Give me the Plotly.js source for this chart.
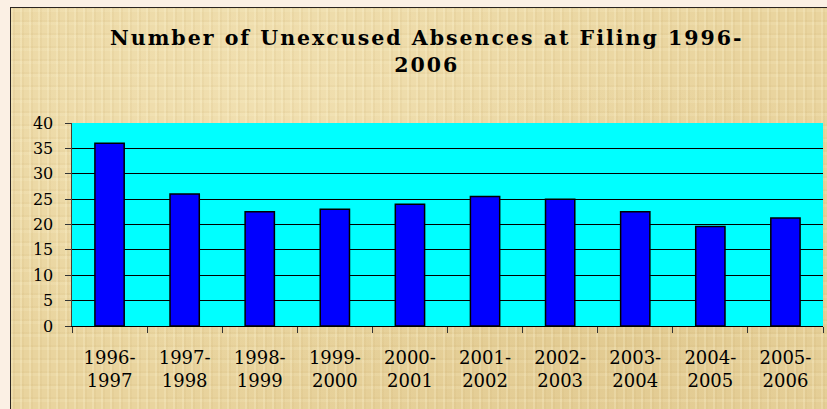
<!DOCTYPE html>
<html>
<head>
<meta charset="utf-8">
<script src="https://cdn.plot.ly/plotly-3.0.1.min.js"></script>
<style>
  html, body { margin: 0; padding: 0; width: 827px; height: 409px; overflow: hidden; background: #FBF0E4; }
  #frame {
    position: absolute; left: 10px; top: 7px; width: 830px; height: 420px;
    border-left: 1.5px solid #2b2520; border-top: 1.5px solid #2b2520;
    background-color: #E9D49E;
    background-image:
      repeating-linear-gradient(90deg, rgba(255,248,215,0.22) 0px, rgba(255,248,215,0.22) 2px, rgba(196,165,100,0.10) 2px, rgba(196,165,100,0.10) 4px, rgba(0,0,0,0) 4px, rgba(0,0,0,0) 9px),
      repeating-linear-gradient(0deg, rgba(255,248,215,0.14) 0px, rgba(255,248,215,0.14) 3px, rgba(190,158,92,0.08) 3px, rgba(190,158,92,0.08) 5px, rgba(0,0,0,0) 5px, rgba(0,0,0,0) 13px),
      radial-gradient(ellipse at 30% 20%, rgba(255,245,210,0.35), rgba(0,0,0,0) 60%),
      radial-gradient(ellipse at 75% 80%, rgba(200,168,100,0.22), rgba(0,0,0,0) 55%);
  }
  #chart { position: absolute; left: 0; top: 0; width: 827px; height: 409px; }
  .gtitle { letter-spacing: 2px; }
</style>
</head>
<body>
<div id="frame"></div>
<div id="chart"></div>
<script>
const categories = ["1996-<br>1997", "1997-<br>1998", "1998-<br>1999", "1999-<br>2000", "2000-<br>2001",
                    "2001-<br>2002", "2002-<br>2003", "2003-<br>2004", "2004-<br>2005", "2005-<br>2006"];
const absences = [36, 26, 22.5, 23, 24, 25.5, 25, 22.5, 19.6, 21.3];
const yTickValues = [0, 5, 10, 15, 20, 25, 30, 35, 40];
const titleText = "Number of Unexcused Absences at Filing 1996-<br>2006";

const trace = {
  type: "bar",
  x: categories,
  y: absences,
  marker: { color: "#0000FF", line: { color: "#000000", width: 1.5 } },
  hoverinfo: "x+y"
};

const layout = {
  width: 827, height: 409,
  margin: { l: 72, r: 4, t: 123, b: 83, pad: 0 },
  paper_bgcolor: "rgba(0,0,0,0)",
  plot_bgcolor: "#00FFFF",
  showlegend: false,
  bargap: 0.61,
  title: {
    text: titleText,
    font: { family: "DejaVu Serif", size: 20.5, color: "#000000", weight: "bold" },
    x: 0.516, xref: "container", xanchor: "center",
    y: 0.89, yref: "container", yanchor: "top"
  },
  xaxis: {
    type: "category",
    tickson: "boundaries",
    ticks: "outside", ticklen: 6, tickwidth: 1, tickcolor: "#333333",
    showline: true, linecolor: "#000000", linewidth: 1,
    showgrid: false,
    tickfont: { family: "DejaVu Serif", size: 18, color: "#000000" },
    ticklabelstandoff: 15
  },
  yaxis: {
    range: [0, 40],
    tickvals: yTickValues,
    ticks: "outside", ticklen: 6, tickwidth: 1, tickcolor: "#333333",
    showline: true, linecolor: "#4a3f35", linewidth: 1.5,
    showgrid: true, gridcolor: "#000000", gridwidth: 1,
    zeroline: false,
    tickfont: { family: "DejaVu Serif", size: 16, color: "#000000" },
    ticklabelstandoff: 8
  }
};

Plotly.newPlot("chart", [trace], layout, { displayModeBar: false, staticPlot: true });
</script>
</body>
</html>
